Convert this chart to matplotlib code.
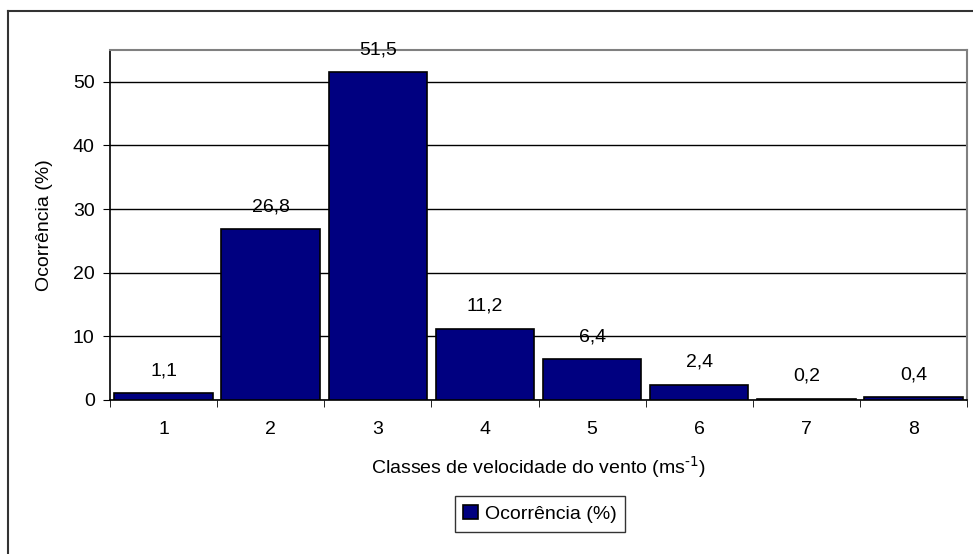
import matplotlib.pyplot as plt
from matplotlib.lines import Line2D

plt.rcParams['font.family'] = ['Liberation Sans', 'DejaVu Sans']

# Wind speed classes and occurrence (%)
classes = [1, 2, 3, 4, 5, 6, 7, 8]
ocorrencia = [1.1, 26.8, 51.5, 11.2, 6.4, 2.4, 0.2, 0.4]
labels = ['1,1', '26,8', '51,5', '11,2', '6,4', '2,4', '0,2', '0,4']

fig = plt.figure(figsize=(9.73, 5.54), dpi=100)
ax = fig.add_axes([110 / 973, 1 - 400 / 554, 857 / 973, 350 / 554])

bars = ax.bar(classes, ocorrencia, width=0.92, color='#000080',
              edgecolor='black', linewidth=1.2, zorder=3,
              label='Ocorrência (%)')

for b, txt in zip(bars, labels):
    ax.annotate(txt, (b.get_x() + b.get_width() / 2, b.get_height()),
                xytext=(0, 10), textcoords='offset points',
                ha='center', va='bottom', fontsize=14, zorder=4)

ax.set_xlim(0.5, 8.5)
ax.set_ylim(0, 55)
ax.set_yticks([0, 10, 20, 30, 40, 50])
ax.yaxis.grid(True, color='black', linewidth=1)
ax.set_axisbelow(True)

# category labels centred, tick marks on the class boundaries
ax.set_xticks(classes)
ax.set_xticks([c + 0.5 for c in [0] + classes], minor=True)
ax.tick_params(axis='x', which='major', length=0, pad=15, labelsize=14)
ax.tick_params(axis='x', which='minor', length=5, direction='out', color='black')
ax.tick_params(axis='y', length=5, direction='out', labelsize=14, pad=6)

for s in ['top', 'right']:
    ax.spines[s].set_color('#808080')
    ax.spines[s].set_linewidth(1.5)
for s in ['left', 'bottom']:
    ax.spines[s].set_color('black')
    ax.spines[s].set_linewidth(1.2)

ax.set_xlabel('Classes de velocidade do vento (ms$^{\\text{-1}}$)',
              fontsize=14, labelpad=12)
ax.set_ylabel('Ocorrência (%)', fontsize=14, labelpad=14)

leg = fig.legend(handles=[bars], loc='center', bbox_to_anchor=(540 / 973, 1 - 514 / 554),
                 fontsize=14, frameon=True, fancybox=False, handlelength=0.75,
                 handleheight=0.75, handletextpad=0.35, borderpad=0.45)
leg.get_frame().set_edgecolor('black')
leg.get_frame().set_linewidth(1)

# outer chart frame (left and top edges)
fig.add_artist(Line2D([8 / 973, 8 / 973], [0, 1 - 11 / 554],
                      transform=fig.transFigure, color='#333333', linewidth=1.5))
fig.add_artist(Line2D([8 / 973, 1], [1 - 11 / 554, 1 - 11 / 554],
                      transform=fig.transFigure, color='#333333', linewidth=1.5))

fig.savefig('out.png', dpi=100)
